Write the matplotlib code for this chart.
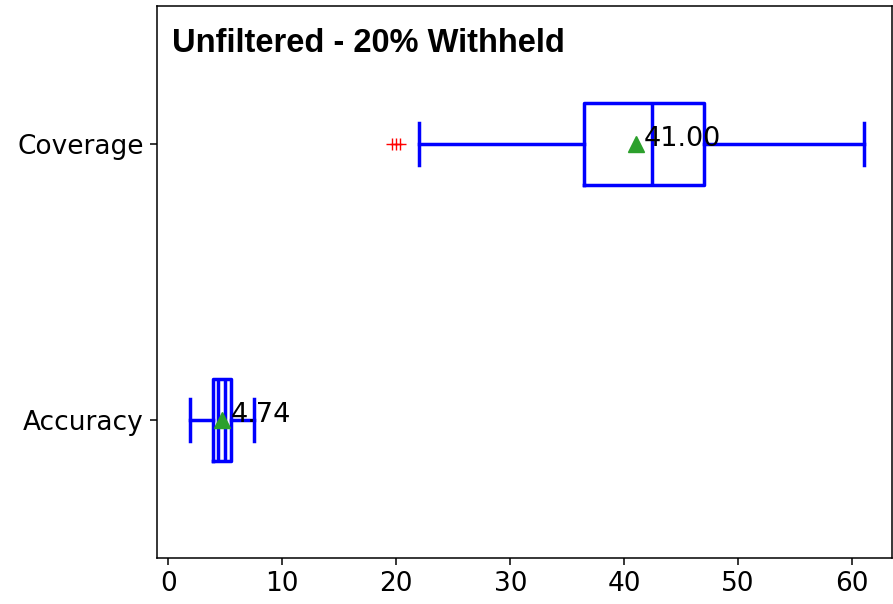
import matplotlib
matplotlib.use("Agg")
import matplotlib.pyplot as plt

# Data
categories = ["Accuracy", "Coverage"]
whislo = [1.93, 21.95]
q1 = [3.95, 36.45]
medians = [4.38, 42.4]
q3 = [5.48, 47.0]
whishi = [7.5, 61.05]
means = [4.74, 41.00]
fliers = [[], [19.6, 19.95, 20.3]]
accuracy_extra_line = [5.0]   # additional inner line seen in the Accuracy box

title = "Unfiltered - 20% Withheld"

fig = plt.figure(figsize=(8.93, 6.04), dpi=100)
ax = fig.add_axes([157/893, 1-558/604, (892-157)/893, (558-6)/604])

stats = []
for i, c in enumerate(categories):
    stats.append(dict(label=c, whislo=whislo[i], q1=q1[i], med=medians[i],
                      q3=q3[i], whishi=whishi[i], mean=means[i], fliers=fliers[i]))

lw = 2.5
blue = "#0000ff"
positions = [1, 2]
ax.bxp(stats, positions=positions, vert=False, widths=0.3, showmeans=True,
       boxprops=dict(color=blue, linewidth=lw),
       whiskerprops=dict(color=blue, linewidth=lw),
       capprops=dict(color=blue, linewidth=lw),
       medianprops=dict(color=blue, linewidth=lw),
       meanprops=dict(marker="^", markerfacecolor="#2ca02c", markeredgecolor="#2ca02c", markersize=11),
       flierprops=dict(marker="+", markeredgecolor="red", markersize=8, linestyle="none"))

ax.vlines(accuracy_extra_line, positions[0]-0.15, positions[0]+0.15, color=blue, linewidth=lw)

for p, m in zip(positions, means):
    ax.annotate(f"{m:.2f}", xy=(m, p), xytext=(6, -1.5), textcoords="offset points",
                ha="left", va="baseline", fontsize=19.5, color="black")

ax.set_xlim(-1, 63.5)
ax.set_ylim(0.5, 2.5)
ax.set_yticks(positions)
ax.set_yticklabels(categories)
ax.set_xticks([0, 10, 20, 30, 40, 50, 60])
ax.tick_params(axis="both", labelsize=19, length=4.8, width=1.1, pad=4.8)
for s in ax.spines.values():
    s.set_linewidth(1.1)

ax.annotate(title, xy=(0, 1), xycoords="axes fraction", xytext=(11, -16),
            textcoords="offset points", ha="left", va="top",
            fontsize=23.5, fontweight="bold", family="Liberation Sans")

fig.savefig("out.png", dpi=100)
